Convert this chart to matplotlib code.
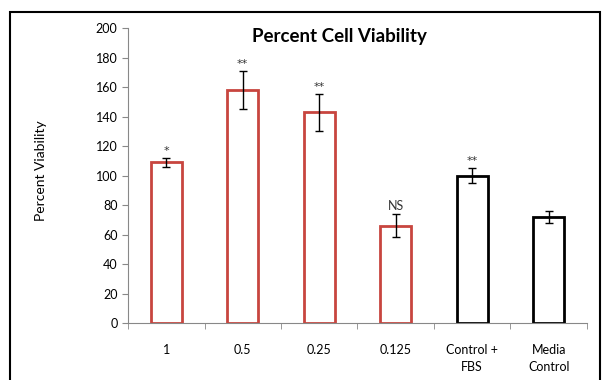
import matplotlib.pyplot as plt
import numpy as np
from matplotlib.patches import Rectangle

categories = ['1', '0.5', '0.25', '0.125', 'Control +\nFBS', 'Media\nControl']
viability = [109, 158, 143, 66, 100, 72]
errors = [3, 13, 12.5, 8, 5, 4]
signif = ['*', '**', '**', 'NS', '**', '']
edge_colors = ['#C8453F', '#C8453F', '#C8453F', '#C8453F', 'black', 'black']

plt.rcParams['font.family'] = ['Lato', 'DejaVu Sans']

fig = plt.figure(figsize=(6.05, 3.8), dpi=100)
ax = fig.add_axes([0.2116, 0.15, 0.7586, 0.776])

x = np.arange(len(categories))
ax.bar(x, viability, width=0.4, color='white', edgecolor=edge_colors, linewidth=2)
ax.errorbar(x, viability, yerr=errors, fmt='none', ecolor='black',
            elinewidth=1, capsize=3, capthick=1)

for xi, v, e, s in zip(x, viability, errors, signif):
    if s == 'NS':
        ax.text(xi, v + e + 1.5, s, ha='center', va='bottom', fontsize=9,
                color='#333333')
    elif s:
        ax.text(xi, v + e + 1.5, s, ha='center', va='bottom', fontsize=8,
                color='#333333', family='DejaVu Sans')

ax.set_xlim(-0.5, len(categories) - 0.5)
ax.set_ylim(0, 200)
ax.set_yticks(range(0, 201, 20))
ax.set_xticks(x)
ax.set_xticklabels(categories, fontsize=9, linespacing=1.5)
ax.set_xticks(np.arange(-0.5, len(categories), 1), minor=True)
ax.tick_params(axis='x', which='major', length=0, pad=15)
ax.tick_params(axis='x', which='minor', length=4, color='#888888')
ax.tick_params(axis='y', length=4, color='#888888', labelsize=9)

for side in ['top', 'right']:
    ax.spines[side].set_visible(False)
for side in ['left', 'bottom']:
    ax.spines[side].set_color('#888888')

fig.text(0.561, 0.903, 'Percent Cell Viability', ha='center', va='center',
         fontsize=13.5, fontweight='bold')
fig.text(0.068, 0.55, 'Percent Viability', rotation=90, ha='center',
         va='center', fontsize=10)

# outer frame
fig.patches.append(Rectangle((0.0165, -0.05), 0.975, 1.018,
                             transform=fig.transFigure, fill=False,
                             edgecolor='black', linewidth=1.5))

fig.savefig('out.png', dpi=100)
